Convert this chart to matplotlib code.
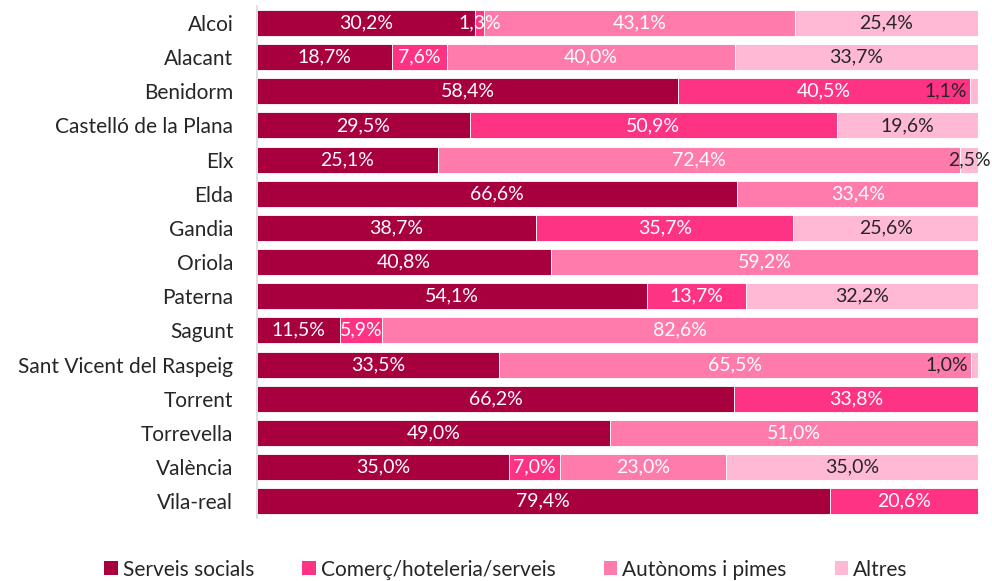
import matplotlib.pyplot as plt
from matplotlib.patches import Patch
import numpy as np

plt.rcParams['font.family'] = ['Lato', 'DejaVu Sans']

cities = ["Alcoi", "Alacant", "Benidorm", "Castelló de la Plana", "Elx", "Elda",
          "Gandia", "Oriola", "Paterna", "Sagunt", "Sant Vicent del Raspeig",
          "Torrent", "Torrevella", "València", "Vila-real"]
serveis_socials = [30.2, 18.7, 58.4, 29.5, 25.1, 66.6, 38.7, 40.8, 54.1, 11.5, 33.5, 66.2, 49.0, 35.0, 79.4]
comerc = [1.3, 7.6, 40.5, 50.9, 0, 0, 35.7, 0, 13.7, 5.9, 0, 33.8, 0, 7.0, 20.6]
autonoms = [43.1, 40.0, 0, 0, 72.4, 33.4, 0, 59.2, 0, 82.6, 65.5, 0, 51.0, 23.0, 0]
altres = [25.4, 33.7, 1.1, 19.6, 2.5, 0, 25.6, 0, 32.2, 0, 1.0, 0, 0, 35.0, 0]

series = [("Serveis socials", serveis_socials, "#a8003f", "white"),
          ("Comerç/hoteleria/serveis", comerc, "#ff3384", "white"),
          ("Autònoms i pimes", autonoms, "#ff7bab", "white"),
          ("Altres", altres, "#ffb9d4", "#262626")]

fig = plt.figure(figsize=(9.92, 5.81), dpi=100)
ax = fig.add_axes([0.259, 0.108, 0.727, 0.882])

y = np.arange(len(cities))
left = np.zeros(len(cities))
for name, vals, color, tcolor in series:
    vals = np.array(vals)
    ax.barh(y, vals, left=left, height=0.76, color=color, edgecolor="white", linewidth=0.6)
    for i, v in enumerate(vals):
        if v <= 0:
            continue
        txt = f"{v:.1f}%".replace(".", ",")
        if name == "Altres" and v < 1.5:
            # tiny end segment: label sits just inside the previous block
            ax.text(left[i] - 0.4, i, txt, ha="right", va="center", color=tcolor, fontsize=14)
        else:
            ax.text(left[i] + v / 2, i, txt, ha="center", va="center", color=tcolor, fontsize=14)
    left += vals

ax.set_yticks(y)
ax.set_yticklabels(cities, fontsize=15, color="#262626")
ax.set_ylim(len(cities) - 0.5, -0.5)
ax.set_xlim(0, 100)
ax.set_xticks([])
ax.tick_params(axis="y", length=0, pad=17)
for s in ["top", "right", "bottom"]:
    ax.spines[s].set_visible(False)
ax.spines["left"].set_color("#d9d9d9")
ax.spines["left"].set_linewidth(1.2)

handles = [Patch(facecolor=c, label=n) for n, _, c, _ in series]
fig.legend(handles=handles, loc="lower center", bbox_to_anchor=(0.51, -0.03), ncol=4,
           frameon=False, fontsize=15, handlelength=0.65, handleheight=0.65,
           handletextpad=0.25, columnspacing=2.3, labelcolor="#262626")

plt.savefig("out.png", dpi=100)
